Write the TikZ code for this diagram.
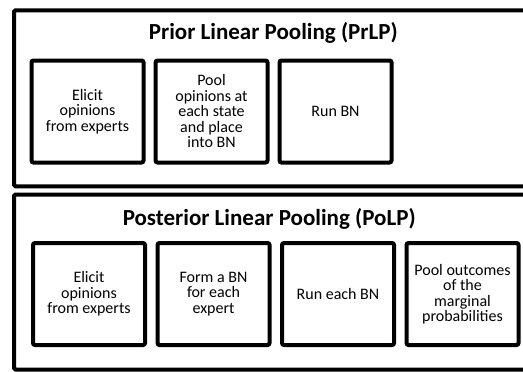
\documentclass[tikz,border=0pt]{standalone}
\usepackage{fontspec}
\setmainfont{Carlito}
\usetikzlibrary{positioning}

\begin{document}
\begin{tikzpicture}[x=1pt,y=-1pt,
  panel/.style={line width=4pt,rounded corners=1.5pt},
  stage/.style={draw,line width=4pt,rounded corners=2pt,outer sep=0pt,
    minimum width=112pt,minimum height=102pt,inner sep=2pt,align=center,
    font=\fontsize{16}{15.5}\selectfont},
  heading/.style={anchor=base,font=\fontsize{23}{26}\selectfont\bfseries}]
  \useasboundingbox (0,0) rectangle (523,372);
  \clip (0,0) rectangle (523,372);
  % outer panels, open at the right
  \draw[panel] (14,10.3) rectangle (540,186.3);
  \draw[panel] (14,194.5) rectangle (540,369.5);
  % prior pooling
  \node[heading] (prlp) at (273.3,39.3) {Prior Linear Pooling (PrLP)};
  \node[stage] (pr1) at (87.5,111.5) {Elicit\\opinions\\from experts};
  \node[stage,right=12pt of pr1] (pr2) {Pool\\opinions at\\each state\\and place\\into BN};
  \node[stage,right=12pt of pr2] (pr3) {Run BN};
  % posterior pooling
  \node[heading] (polp) at (269.2,225) {Posterior Linear Pooling (PoLP)};
  \node[stage] (po1) at (89,294) {Elicit\\opinions\\from experts};
  \node[stage,right=12.5pt of po1] (po2) {Form a BN\\for each\\expert};
  \node[stage,right=12.5pt of po2] (po3) {Run each BN};
  \node[stage,right=12.5pt of po3] (po4) {Pool outcomes\\of the\\marginal\\probabilities};
\end{tikzpicture}
\end{document}
